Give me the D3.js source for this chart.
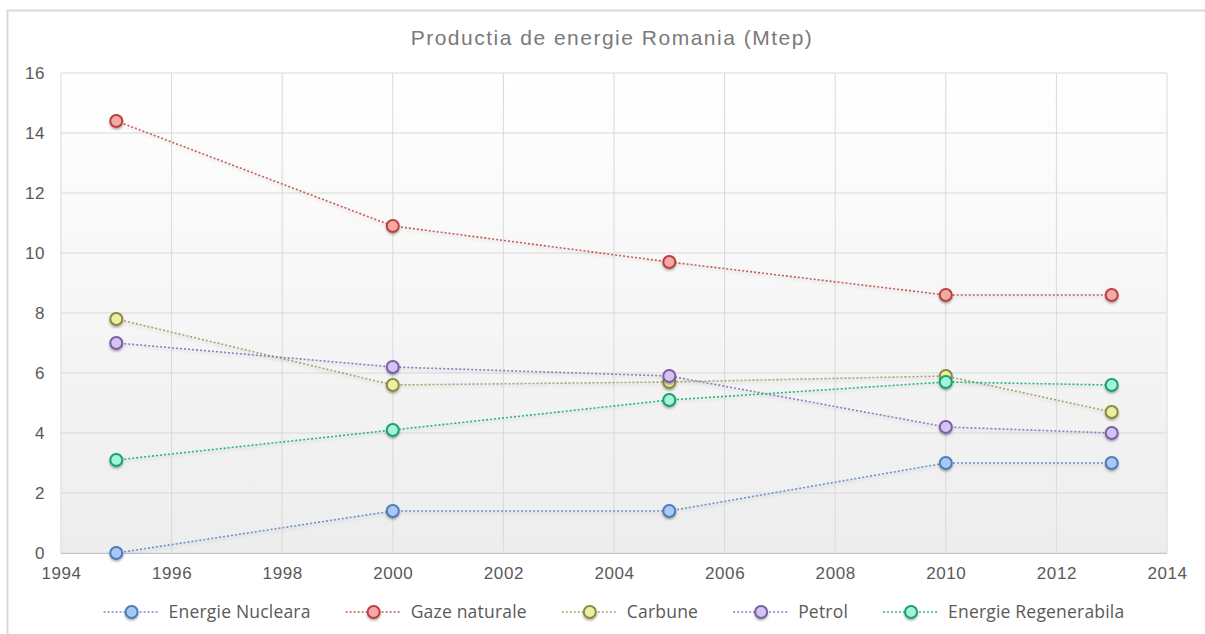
<!DOCTYPE html>
<html>
<head>
<meta charset="utf-8">
<script src="https://cdn.jsdelivr.net/npm/d3@7/dist/d3.min.js"></script>
<style>
  html, body { margin: 0; padding: 0; background: #ffffff; }
  svg { display: block; }
  text { font-family: "Liberation Sans", Arial, sans-serif; fill: #595959; }
</style>
</head>
<body>
<svg id="chart" width="1205" height="634"></svg>
<script>
const title = "Productia de energie Romania (Mtep)";
const years = [1995, 2000, 2005, 2010, 2013];
const seriesNames = ["Energie Nucleara", "Gaze naturale", "Carbune", "Petrol", "Energie Regenerabila"];
const nucleara = [0, 1.4, 1.4, 3.0, 3.0];
const gaze = [14.4, 10.9, 9.7, 8.6, 8.6];
const carbune = [7.8, 5.6, 5.7, 5.9, 4.7];
const petrol = [7.0, 6.2, 5.9, 4.2, 4.0];
const regenerabila = [3.1, 4.1, 5.1, 5.7, 5.6];
const xTicks = [1994, 1996, 1998, 2000, 2002, 2004, 2006, 2008, 2010, 2012, 2014];
const yTicks = [0, 2, 4, 6, 8, 10, 12, 14, 16];

const styles = [
  { line: "#6f8fcb", fill: "#a9c9f2", stroke: "#4a7bbf" },
  { line: "#c65a57", fill: "#f5a9a7", stroke: "#b8413e" },
  { line: "#a9a274", fill: "#e9f0a2", stroke: "#8b8a3e" },
  { line: "#8d7bbf", fill: "#d4c4f3", stroke: "#7a5ea6" },
  { line: "#25b67a", fill: "#a2f2de", stroke: "#15a463" }
];
const allValues = [nucleara, gaze, carbune, petrol, regenerabila];

const svg = d3.select("#chart");
const defs = svg.append("defs");
const grad = defs.append("linearGradient").attr("id", "bg").attr("x1", 0).attr("y1", 0).attr("x2", 0).attr("y2", 1);
grad.append("stop").attr("offset", "0%").attr("stop-color", "#ffffff");
grad.append("stop").attr("offset", "100%").attr("stop-color", "#ededed");
const sh = defs.append("filter").attr("id", "shadow").attr("x", "-50%").attr("y", "-50%").attr("width", "200%").attr("height", "200%");
sh.append("feDropShadow").attr("dx", 0).attr("dy", 1.5).attr("stdDeviation", 1.2).attr("flood-color", "#000").attr("flood-opacity", 0.35);
const lsh = defs.append("filter").attr("id", "lshadow").attr("x", "-5%").attr("y", "-50%").attr("width", "110%").attr("height", "200%");
lsh.append("feDropShadow").attr("dx", 0).attr("dy", 2).attr("stdDeviation", 1.5).attr("flood-color", "#000").attr("flood-opacity", 0.15);

// outer border
svg.append("rect").attr("x", 7.5).attr("y", 10.5).attr("width", 1210).attr("height", 640)
  .attr("fill", "none").attr("stroke", "#d9d9d9").attr("stroke-width", 2);

const pLeft = 61, pRight = 1167, pTop = 73, pBottom = 553;
const x = d3.scaleLinear().domain([1994, 2014]).range([pLeft, pRight]);
const y = d3.scaleLinear().domain([0, 16]).range([pBottom, pTop]);

svg.append("rect").attr("x", pLeft).attr("y", pTop).attr("width", pRight - pLeft).attr("height", pBottom - pTop).attr("fill", "url(#bg)");

// grid
const grid = svg.append("g");
grid.selectAll(".gx").data(xTicks).join("line")
  .attr("x1", d => x(d)).attr("x2", d => x(d)).attr("y1", pTop).attr("y2", pBottom)
  .attr("stroke", "#d9d9d9").attr("stroke-width", 1);
grid.selectAll(".gy").data(yTicks).join("line")
  .attr("x1", pLeft).attr("x2", pRight).attr("y1", d => y(d)).attr("y2", d => y(d))
  .attr("stroke", "#d9d9d9").attr("stroke-width", 1);
svg.append("line").attr("x1", pLeft).attr("x2", pRight).attr("y1", pBottom + 0.5).attr("y2", pBottom + 0.5)
  .attr("stroke", "#c4c4c4").attr("stroke-width", 1.2);

// axes
const xAxis = d3.axisBottom(x).tickValues(xTicks).tickFormat(d3.format("d")).tickSize(0).tickPadding(14);
const gx = svg.append("g").attr("transform", `translate(0,${pBottom})`).call(xAxis);
gx.select(".domain").remove();
gx.selectAll("text").attr("font-size", 17).attr("letter-spacing", 0.6).attr("fill", "#595959").style("font-family", "Liberation Sans, Arial, sans-serif");

const yAxis = d3.axisLeft(y).tickValues(yTicks).tickSize(0).tickPadding(16);
const gy = svg.append("g").attr("transform", `translate(${pLeft},0)`).call(yAxis);
gy.select(".domain").remove();
gy.selectAll("text").attr("font-size", 17).attr("letter-spacing", 0.6).attr("fill", "#595959").style("font-family", "Liberation Sans, Arial, sans-serif");

// title
svg.append("text").attr("x", 612).attr("y", 45).attr("text-anchor", "middle")
  .attr("font-size", 21).attr("letter-spacing", 1.5).style("fill", "#7a7a7a").text(title);

// series
const line = d3.line().x((d, i) => x(years[i])).y(d => y(d));
allValues.forEach((vals, si) => {
  svg.append("path").datum(vals).attr("d", line).attr("fill", "none")
    .attr("stroke", styles[si].line).attr("stroke-width", 1.6).attr("stroke-dasharray", "2,2")
    .attr("filter", "url(#lshadow)");
});
allValues.forEach((vals, si) => {
  svg.append("g").selectAll("circle").data(vals).join("circle")
    .attr("cx", (d, i) => x(years[i])).attr("cy", d => y(d)).attr("r", 6)
    .attr("fill", styles[si].fill).attr("stroke", styles[si].stroke).attr("stroke-width", 2)
    .attr("filter", "url(#shadow)");
});

// legend
const legY = 612;
const lg = svg.append("g");
const items = seriesNames.map((name, i) => {
  const g = lg.append("g");
  g.append("line").attr("x1", 0).attr("x2", 56).attr("y1", 0).attr("y2", 0)
    .attr("stroke", styles[i].line).attr("stroke-width", 1.6).attr("stroke-dasharray", "2,2");
  g.append("circle").attr("cx", 28).attr("cy", 0).attr("r", 6)
    .attr("fill", styles[i].fill).attr("stroke", styles[i].stroke).attr("stroke-width", 2)
    .attr("filter", "url(#shadow)");
  const t = g.append("text").attr("x", 65).attr("y", 0).attr("dy", "0.35em")
    .attr("font-size", 17.5).attr("letter-spacing", 0.2)
    .style("font-family", "'Open Sans', sans-serif").text(name);
  return { g, w: 65 + t.node().getComputedTextLength() };
});
const gap = 35;
const total = d3.sum(items, d => d.w) + gap * (items.length - 1);
let cx = 614 - total / 2;
items.forEach(it => { it.g.attr("transform", `translate(${cx},${legY})`); cx += it.w + gap; });
</script>
</body>
</html>
